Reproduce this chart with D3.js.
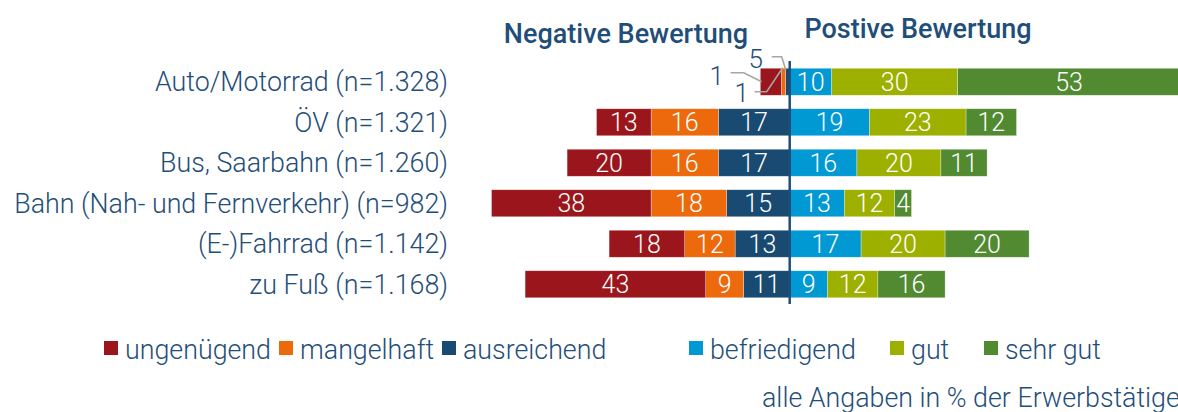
<!DOCTYPE html>
<html>
<head>
<meta charset="utf-8">
<script src="https://cdn.jsdelivr.net/npm/d3@7"></script>
<style>
  body { margin: 0; background: #fff; }
  svg { display: block; font-family: Roboto, "Noto Sans", sans-serif; }
</style>
</head>
<body>
<svg id="chart" width="1178" height="412"></svg>
<script>
// data
var categories = ["Auto/Motorrad (n=1.328)", "ÖV (n=1.321)", "Bus, Saarbahn (n=1.260)",
  "Bahn (Nah- und Fernverkehr) (n=982)", "(E-)Fahrrad (n=1.142)", "zu Fuß (n=1.168)"];
var keys = ["ungenügend", "mangelhaft", "ausreichend", "befriedigend", "gut", "sehr gut"];
var ungenuegend  = [5, 13, 20, 38, 18, 43];
var mangelhaft   = [1, 16, 16, 18, 12, 9];
var ausreichend  = [1, 17, 17, 15, 13, 11];
var befriedigend = [10, 19, 16, 13, 17, 9];
var gut          = [30, 23, 20, 12, 20, 12];
var sehrGut      = [53, 12, 11, 4, 20, 16];
var colours = ["#9b161c", "#ec690c", "#194a72", "#0099d4", "#9db000", "#528a31"];

var series = [ungenuegend, mangelhaft, ausreichend, befriedigend, gut, sehrGut];
var textColour = "#1f4e79";

var svg = d3.select("#chart");

var x = d3.scaleLinear().domain([-71, 93]).range([491.5, 1180.3]);
var y = d3.scaleBand().domain(categories).range([61.5, 304.5])
    .paddingInner(0.333).paddingOuter(0.1665);
var color = d3.scaleOrdinal().domain(keys).range(colours);

// build segments: negatives stacked leftwards from 0, positives rightwards
var segs = [];
categories.forEach(function(c, i) {
  var neg = 0;
  [2, 1, 0].forEach(function(k) {
    var v = series[k][i];
    segs.push({cat: c, key: keys[k], v: v, x0: -(neg + v), x1: -neg, row: i, neg: true});
    neg += v;
  });
  var pos = 0;
  [3, 4, 5].forEach(function(k) {
    var v = series[k][i];
    segs.push({cat: c, key: keys[k], v: v, x0: pos, x1: pos + v, row: i, neg: false});
    pos += v;
  });
});

svg.append("g").selectAll("rect")
  .data(segs)
  .enter()
  .append("rect")
    .attr("x", function(d){ return x(d.x0); })
    .attr("y", function(d){ return y(d.cat); })
    .attr("width", function(d){ return x(d.x1) - x(d.x0); })
    .attr("height", y.bandwidth())
    .style("fill", function(d){ return color(d.key); })
    .style("stroke", "rgba(255,255,255,0.5)")
    .style("stroke-width", 0.6);

// value labels inside bars (Auto negatives are handled by callouts)
svg.append("g").selectAll("text")
  .data(segs.filter(function(d){ return !(d.row === 0 && d.neg); }))
  .enter()
  .append("text")
    .attr("x", function(d){ return (x(d.x0) + x(d.x1)) / 2; })
    .attr("y", function(d){ return y(d.cat) + y.bandwidth() / 2; })
    .attr("dy", "0.36em")
    .attr("text-anchor", "middle")
    .style("fill", "#fff")
    .style("font-size", "25px")
    .style("font-weight", 300)
    .text(function(d){ return d.v; });

// callouts for the tiny Auto segments
var cy = y(categories[0]) + y.bandwidth() / 2;
var x0 = x(0);
var callouts = [
  {label: ungenuegend[0], tx: -34, ty: -23, pts: [[-18, -25], [-8, -25], [-4, -12]]},
  {label: mangelhaft[0],  tx: -73, ty: -6,  pts: [[-59, -9], [-46, -9], [-28, 0]]},
  {label: ausreichend[0], tx: -48, ty: 11,  pts: [[-35, 10], [-23, 10], [-7, -14]]}
];
callouts.forEach(function(c) {
  svg.append("polyline")
    .attr("points", c.pts.map(function(p){ return (x0 + p[0]) + "," + (cy + p[1]); }).join(" "))
    .style("fill", "none")
    .style("stroke", "#a6a6a6")
    .style("stroke-width", 1.6);
  svg.append("text")
    .attr("x", x0 + c.tx)
    .attr("y", cy + c.ty)
    .attr("dy", "0.36em")
    .attr("text-anchor", "middle")
    .style("fill", textColour)
    .style("font-size", "26px")
    .style("font-weight", 300)
    .text(c.label);
});

// zero line
svg.append("line")
  .attr("x1", x0).attr("x2", x0)
  .attr("y1", 61).attr("y2", 304)
  .style("stroke", "#1f4e79")
  .style("stroke-width", 2.5);

// category labels
svg.append("g").selectAll("text")
  .data(categories)
  .enter()
  .append("text")
    .attr("x", 448)
    .attr("y", function(d){ return y(d) + y.bandwidth() / 2; })
    .attr("dy", "0.36em")
    .attr("text-anchor", "end")
    .style("fill", textColour)
    .style("font-size", "26.8px")
    .style("font-weight", 300)
    .text(function(d){ return d; });

// headers
svg.append("text")
  .attr("x", 626).attr("y", 33).attr("dy", "0.36em")
  .attr("text-anchor", "middle")
  .style("fill", textColour).style("font-size", "27px").style("font-weight", 500)
  .text("Negative Bewertung");
svg.append("text")
  .attr("x", 918).attr("y", 28).attr("dy", "0.36em")
  .attr("text-anchor", "middle")
  .style("fill", textColour).style("font-size", "27px").style("font-weight", 500)
  .text("Postive Bewertung");

// legend
var legendX = [104, 279, 442, 689, 890, 984];
var legend = svg.append("g").selectAll("g")
  .data(keys)
  .enter()
  .append("g")
    .attr("transform", function(d, i){ return "translate(" + legendX[i] + ",341)"; });
legend.append("rect")
  .attr("width", 14).attr("height", 14)
  .style("fill", function(d){ return color(d); });
legend.append("text")
  .attr("x", 21).attr("y", 8).attr("dy", "0.36em")
  .style("fill", textColour)
  .style("font-size", "26.8px")
  .style("font-weight", 300)
  .text(function(d){ return d; });

// note
svg.append("text")
  .attr("x", 762).attr("y", 397).attr("dy", "0.36em")
  .style("fill", textColour)
  .style("font-size", "26.8px")
  .style("font-weight", 300)
  .text("alle Angaben in % der Erwerbstätigen");
</script>
</body>
</html>
